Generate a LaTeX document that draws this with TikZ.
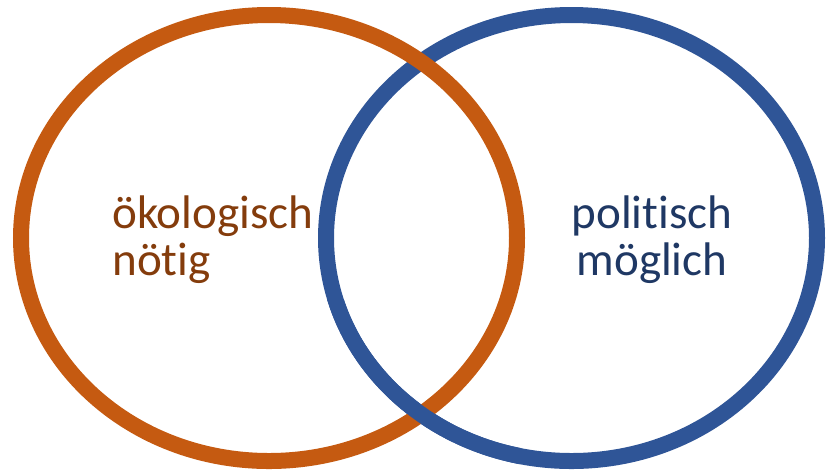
\documentclass[tikz,border=0pt]{standalone}
\usepackage{fontspec}
\setmainfont[Ligatures=NoCommon]{Carlito}
\usepackage{tikz}
\usetikzlibrary{positioning}
\definecolor{ringorange}{HTML}{C55A11}
\definecolor{ringblue}{HTML}{2F5597}
\definecolor{textorange}{HTML}{843C0C}
\definecolor{textblue}{HTML}{1F3864}
\tikzset{
  % ring outlines
  ring/.style={line width=0.4cm},
  % labels inside the rings
  label text/.style={inner sep=0, font=\fontsize{33.5}{33.5}\selectfont}
}

\begin{document}
\begin{tikzpicture}[x=0.025cm, y=-0.025cm]
  \useasboundingbox (0,0) rectangle (828,470);

  \draw[ring, draw=ringblue] (571.5,238) ellipse [x radius=245.5, y radius=223];
  \draw[ring, draw=ringorange] (269,238) ellipse [x radius=248, y radius=223];
  % blue lies over orange at the lower crossing
  \begin{scope}
    \clip (300,300) rectangle (520,470);
    \draw[ring, draw=ringblue] (571.5,238) ellipse [x radius=245.5, y radius=223];
  \end{scope}

  \node[label text, text=textorange, align=left, anchor=west] (oeko) at (112,240) {ökologisch\\nötig};
  \node[label text, text=textblue, align=center] (polit) at (652,240) {politisch\\möglich};
\end{tikzpicture}
\end{document}
